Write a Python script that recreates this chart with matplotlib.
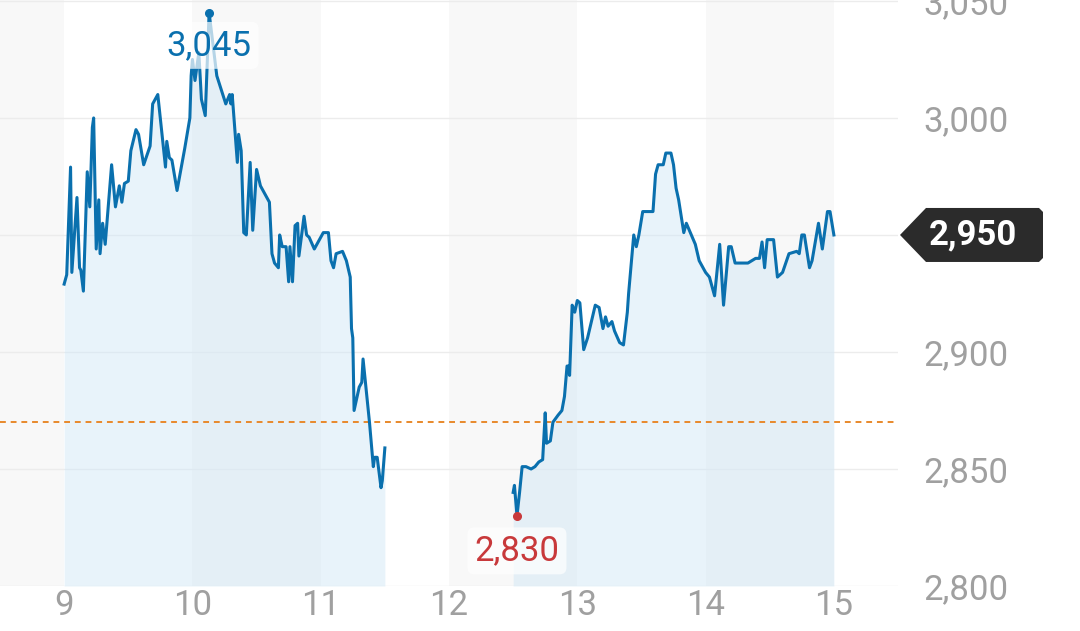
import matplotlib
matplotlib.use("Agg")
import matplotlib.pyplot as plt
from matplotlib.patches import Polygon

plt.rcParams['font.family'] = ['Roboto', 'DejaVu Sans']

# morning session (hours, price)
am_time = [9.00, 9.02, 9.05, 9.06, 9.10, 9.12, 9.13, 9.15, 9.18, 9.20, 9.22, 9.23, 9.25, 9.27,
           9.28, 9.30, 9.32, 9.37, 9.40, 9.43, 9.45, 9.47, 9.50, 9.52, 9.56, 9.58, 9.62, 9.67,
           9.69, 9.73, 9.79, 9.80, 9.82, 9.84, 9.88, 9.94, 9.98, 9.99, 10.00, 10.02, 10.05,
           10.07, 10.10, 10.13, 10.19, 10.26, 10.29, 10.30, 10.31, 10.35, 10.36, 10.38, 10.40,
           10.42, 10.45, 10.47, 10.50, 10.53, 10.60, 10.62, 10.64, 10.67, 10.68, 10.70, 10.73,
           10.75, 10.76, 10.78, 10.80, 10.82, 10.83, 10.87, 10.89, 10.91, 10.95, 11.02, 11.06,
           11.08, 11.10, 11.12, 11.17, 11.20, 11.23, 11.24, 11.25, 11.26, 11.30, 11.32, 11.33,
           11.38, 11.41, 11.42, 11.44, 11.47, 11.48, 11.50]
am_price = [2929, 2933, 2979, 2934, 2966, 2936, 2935, 2926, 2977, 2962, 2996, 3000, 2944, 2965,
            2942, 2955, 2946, 2980, 2962, 2971, 2964, 2972, 2973, 2986, 2995, 2993, 2980, 2988,
            3006, 3010, 2979, 2990, 2983, 2982, 2969, 2987, 3000, 3018, 3025, 3016, 3028,
            3008, 3001, 3045, 3018, 3006, 3010, 3006, 3010, 2981, 2993, 2986, 2951,
            2950, 2981, 2952, 2978, 2971, 2964, 2942, 2938, 2936, 2950, 2945, 2945,
            2930, 2945, 2930, 2954, 2955, 2941, 2958, 2950, 2949, 2944, 2951, 2951,
            2939, 2936, 2942, 2943, 2939, 2932, 2910, 2906, 2875, 2885, 2887, 2897,
            2870, 2851, 2855, 2855, 2842, 2845, 2859]

# afternoon session
pm_time = [12.50, 12.51, 12.53, 12.55, 12.57, 12.60, 12.64, 12.67, 12.70, 12.73, 12.75, 12.76,
           12.79, 12.81, 12.85, 12.88, 12.90, 12.92, 12.93, 12.94, 12.96, 12.98, 13.00, 13.02,
           13.05, 13.08, 13.14, 13.17, 13.20, 13.22, 13.24, 13.27, 13.29, 13.33, 13.36, 13.39,
           13.40, 13.44, 13.46, 13.48, 13.51, 13.59, 13.61, 13.63, 13.67, 13.69, 13.73, 13.75,
           13.77, 13.79, 13.83, 13.85, 13.92, 13.95, 14.00, 14.03, 14.07, 14.11, 14.14, 14.18,
           14.20, 14.23, 14.33, 14.39, 14.42, 14.44, 14.46, 14.48, 14.53, 14.56, 14.60, 14.65,
           14.71, 14.73, 14.75, 14.77, 14.81, 14.83, 14.88, 14.91, 14.95, 14.97, 15.00]
pm_price = [2840, 2843, 2830, 2840, 2851, 2851, 2850, 2851, 2853, 2854, 2874, 2861,
            2862, 2870, 2873, 2875, 2881, 2894, 2894, 2890, 2920, 2917, 2922, 2921,
            2901, 2906, 2920, 2919, 2910, 2915, 2911, 2913, 2909, 2904, 2903, 2917,
            2925, 2950, 2945, 2950, 2960, 2960, 2976, 2980, 2980, 2985, 2985, 2980,
            2970, 2965, 2951, 2955, 2946, 2939, 2934, 2932, 2924, 2946, 2920, 2945,
            2945, 2938, 2938, 2940, 2940, 2947, 2936, 2948, 2948, 2932, 2934, 2942,
            2943, 2942, 2950, 2950, 2936, 2939, 2955, 2944, 2960, 2960, 2950]

ref_price = 2870
last_price = 2950
hi_time, hi_price = 10.13, 3045
lo_time, lo_price = 12.53, 2830
x_ticks = [9, 10, 11, 12, 13, 14, 15]
y_ticks = [2800, 2850, 2900, 2950, 3000, 3050]
gray_bands = [(8.5, 9), (10, 11), (12, 13), (14, 15)]

line_color = "#0a70ae"
fill_color = "#d2e8f6"
text_gray = "#a0a0a0"
fs = 25

fig = plt.figure(figsize=(10.8, 6.31), dpi=100)
ax = fig.add_axes([0, 0.0713, 0.8315, 0.9287])
ax.set_xlim(8.5, 15.5)
ax.set_ylim(2800, 3050.4)

for a, b in gray_bands:
    ax.axvspan(a, b, color="#f8f8f8", lw=0, zorder=0)

for y in y_ticks:
    ax.axhline(y, color="#ececec", lw=1, zorder=1)

for t, p in [(am_time, am_price), (pm_time, pm_price)]:
    ax.fill_between(t, p, 2800, color=fill_color, alpha=0.5, lw=0, zorder=2)
    ax.plot(t, p, color=line_color, lw=2.2, zorder=4)

ax.axhline(ref_price, color="#e8892b", lw=1.4, ls=(0, (3, 2.5)), zorder=3)

# high / low markers
ax.plot(hi_time, hi_price, "o", color=line_color, ms=5.5, zorder=5)
ax.plot(lo_time, lo_price, "o", color="#c8393b", ms=5.5, zorder=5)
ax.text(hi_time, 3031, f"{hi_price:,}", color=line_color, fontsize=fs,
        ha="center", va="center", zorder=6,
        bbox=dict(boxstyle="round,pad=0.2,rounding_size=0.2", fc="white", ec="none", alpha=0.7))
ax.text(lo_time, 2815, f"{lo_price:,}", color="#c8393b", fontsize=fs,
        ha="center", va="center", zorder=6,
        bbox=dict(boxstyle="round,pad=0.2,rounding_size=0.2", fc="white", ec="none", alpha=0.7))

ax.set_xticks(x_ticks)
ax.set_xticklabels([str(x) for x in x_ticks])
ax.set_yticks(y_ticks)
# the 2,950 level is shown by the price tag instead
ax.set_yticklabels(["" if y == last_price else f"{y:,}" for y in y_ticks])
ax.yaxis.tick_right()
ax.tick_params(axis="both", length=0, labelsize=fs, labelcolor=text_gray)
ax.tick_params(axis="y", pad=18)
ax.tick_params(axis="x", pad=2)
for s in ax.spines.values():
    s.set_visible(False)

# last price tag
y_pix = ax.transData.transform((0, last_price))[1]
outline = [(900, 0), (926, 27), (1039, 27), (1043, 23), (1043, -23), (1039, -27), (926, -27)]
tag = Polygon([(px, py + y_pix) for px, py in outline], closed=True,
              fc="#2b2b2b", ec="none", transform=None, zorder=10)
fig.patches.append(tag)
fig.text(973 / 1080, y_pix / 631, f"{last_price:,}", color="white", fontsize=fs,
         fontweight="bold", ha="center", va="center", zorder=11)

fig.savefig("out.png", dpi=100)
